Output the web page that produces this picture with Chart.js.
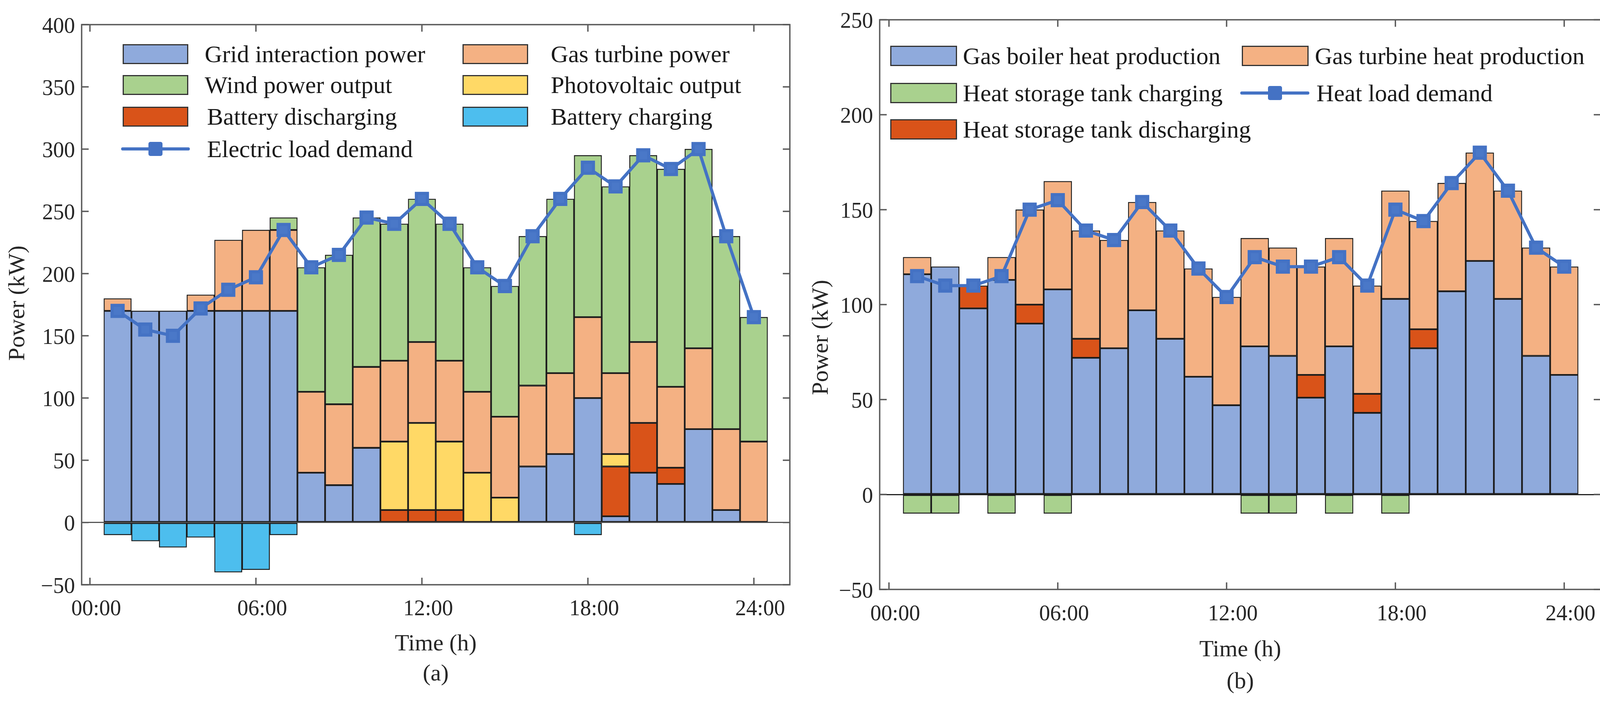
<!DOCTYPE html>
<html>
<head>
<meta charset="utf-8">
<script src="https://cdn.jsdelivr.net/npm/chart.js@4.4.1/dist/chart.umd.min.js"></script>
<style>
  body { margin: 0; background: #fff; }
  #wrap { position: relative; width: 4126px; height: 1796px; font-family: "Liberation Serif", serif; }
  canvas { position: absolute; top: 0; }
  .swatch { position: absolute; box-sizing: border-box; border: 3px solid #333; }
  .legtext { position: absolute; font-size: 62px; color: #1a1a1a; white-space: nowrap; height: 80px; line-height: 80px; }
  .legline { position: absolute; height: 8px; border-radius: 4px; background: #4472C4; }
  .legmark { position: absolute; width: 36px; height: 36px; border-radius: 5px; background: #4472C4; }
</style>
</head>
<body>
<div id="wrap">
  <canvas id="elecChart" width="2063" height="1796" style="left:0px"></canvas>
  <canvas id="heatChart" width="2063" height="1796" style="left:2063px"></canvas>
</div>
<script>
// hours of the day, one bar per hour
const hours = [1,2,3,4,5,6,7,8,9,10,11,12,13,14,15,16,17,18,19,20,21,22,23,24];
const xTickValues = [0, 6, 12, 18, 24];
const xTickLabels = ['00:00', '06:00', '12:00', '18:00', '24:00'];

// (a) electric balance, kW
const gridPower        = [170,170,170,170,170,170,170,40,30,60,0,0,0,0,0,45,55,100,5,40,31,75,10,0];
const batteryDischarge = [0,0,0,0,0,0,0,0,0,0,10,10,10,0,0,0,0,0,40,40,13,0,0,0];
const pvOutput         = [0,0,0,0,0,0,0,0,0,0,55,70,55,40,20,0,0,0,10,0,0,0,0,0];
const gasTurbinePower  = [10,0,0,13,57,65,65,65,65,65,65,65,65,65,65,65,65,65,65,65,65,65,65,65];
const windOutput       = [0,0,0,0,0,0,10,100,120,120,110,115,110,100,105,120,140,130,150,150,175,160,155,100];
const batteryCharge    = [-10,-15,-20,-12,-40,-38,-10,0,0,0,0,0,0,0,0,0,0,-10,0,0,0,0,0,0];
const electricLoad     = [170,155,150,172,187,197,235,205,215,245,240,260,240,205,190,230,260,285,270,295,284,300,230,165];

// (b) heat balance, kW
const gasBoilerHeat    = [116,120,98,113,90,108,72,77,97,82,62,47,78,73,51,78,43,103,77,107,123,103,73,63];
const tankDischarge    = [0,0,12,0,10,0,10,0,0,0,0,0,0,0,12,0,10,0,10,0,0,0,0,0];
const gasTurbineHeat   = [9,0,0,12,50,57,57,57,57,57,57,57,57,57,57,57,57,57,57,57,57,57,57,57];
const tankCharge       = [-10,-10,0,-10,0,-10,0,0,0,0,0,0,-10,-10,0,-10,0,-10,0,0,0,0,0,0];
const heatLoad         = [115,110,110,115,150,155,139,134,154,139,119,104,125,120,120,125,110,150,144,164,180,160,130,120];

const FONT = '"Liberation Serif"';
const TEXT = '#262626';
const AXIS = '#5a5a5a';
const LINE_BLUE = '#4472C4';

const colors = {
  blue: '#8FAADC',
  orange: '#F4B183',
  green: '#A9D18E',
  yellow: '#FFD966',
  red: '#D95319',
  cyan: '#4DBEEE'
};

//turn a value array into {x,y} points, empty bars become null
function toPoints(values) {
  return hours.map((h, i) => ({ x: h, y: values[i] === 0 ? null : values[i] }));
}

function barSet(label, values, color) {
  return {
    type: 'bar',
    label: label,
    data: toPoints(values),
    backgroundColor: color,
    borderColor: 'rgba(0,0,0,0.88)',
    borderWidth: 2.5,
    borderSkipped: false,
    barPercentage: 1,
    categoryPercentage: 1,
    order: 1
  };
}

function lineSet(label, values) {
  return {
    type: 'line',
    label: label,
    data: hours.map((h, i) => ({ x: h, y: values[i] })),
    stack: 'load',
    borderColor: LINE_BLUE,
    borderWidth: 8,
    borderJoinStyle: 'round',
    borderCapStyle: 'round',
    pointStyle: 'rect',
    pointRadius: 20,
    pointBorderWidth: 8,
    pointBorderColor: LINE_BLUE,
    pointBackgroundColor: '#4A78C8',
    tension: 0,
    order: 0
  };
}

//box around the plot plus inward ticks on all four sides (MATLAB style)
const framePlugin = {
  id: 'frame',
  afterDatasetsDraw(chart) {
    const { ctx, chartArea: a, scales } = chart;
    const x = scales.x, y = scales.y;
    const len = 18;
    ctx.save();
    ctx.strokeStyle = AXIS;
    ctx.lineWidth = 3.5;
    ctx.strokeRect(a.left, a.top, a.right - a.left, a.bottom - a.top);
    ctx.beginPath();
    x.ticks.forEach(t => {
      const px = x.getPixelForValue(t.value);
      ctx.moveTo(px, a.bottom); ctx.lineTo(px, a.bottom - len);
      ctx.moveTo(px, a.top); ctx.lineTo(px, a.top + len);
    });
    y.ticks.forEach(t => {
      const py = y.getPixelForValue(t.value);
      ctx.moveTo(a.left, py); ctx.lineTo(a.left + len, py);
      ctx.moveTo(a.right, py); ctx.lineTo(a.right - len, py);
    });
    ctx.stroke();
    ctx.restore();
  }
};

//rotated y title, can sit off-centre like the original
const yTitlePlugin = {
  id: 'yTitle',
  afterDraw(chart, args, opts) {
    const { ctx, chartArea: a } = chart;
    ctx.save();
    ctx.translate(opts.x, (a.top + a.bottom) / 2 + opts.dy);
    ctx.rotate(-Math.PI / 2);
    ctx.font = '60px ' + FONT;
    ctx.fillStyle = TEXT;
    ctx.textAlign = 'center';
    ctx.textBaseline = 'middle';
    ctx.fillText(opts.text, 0, 0);
    ctx.restore();
  }
};

function makeChart(id, datasets, cfg) {
  const ctx = document.getElementById(id).getContext('2d');
  return new Chart(ctx, {
    data: { datasets: datasets },
    plugins: [framePlugin, yTitlePlugin],
    options: {
      responsive: false,
      devicePixelRatio: 1,
      animation: false,
      events: [],
      layout: { padding: cfg.padding },
      plugins: {
        legend: { display: false },
        tooltip: { enabled: false },
        yTitle: { text: 'Power (kW)', x: cfg.yTitleX, dy: cfg.yTitleDy }
      },
      scales: {
        x: {
          type: 'linear',
          stacked: true,
          offset: false,
          min: cfg.xMin,
          max: 25.3,
          afterBuildTicks: s => { s.ticks = xTickValues.map(v => ({ value: v })); },
          afterFit: s => { s.height = cfg.xHeight; },
          grid: { display: false, drawTicks: false, offset: false },
          border: { display: false },
          ticks: {
            padding: cfg.xTickPad,
            labelOffset: 16,
            maxRotation: 0,
            color: TEXT,
            font: { family: FONT, size: 56 },
            callback: (v, i) => xTickLabels[i]
          },
          title: {
            display: true,
            text: ['Time (h)', cfg.panel],
            color: TEXT,
            font: { family: FONT, size: 60, lineHeight: cfg.titleLine },
            padding: { top: 0, bottom: cfg.titlePad }
          }
        },
        y: {
          stacked: true,
          min: cfg.yMin,
          max: cfg.yMax,
          afterFit: s => { s.width = cfg.yWidth; },
          border: { display: false },
          grid: {
            drawTicks: false,
            lineWidth: 3,
            color: c => (c.tick && c.tick.value === 0) ? cfg.zeroColor : 'rgba(0,0,0,0)'
          },
          ticks: {
            stepSize: 50,
            padding: 17,
            labelOffset: 6,
            color: TEXT,
            font: { family: FONT, size: 56 },
            callback: v => String(v).replace('-', '\u2212')
          }
        }
      }
    }
  });
}

const elecSets = [
  barSet('Grid interaction power', gridPower, colors.blue),
  barSet('Battery discharging', batteryDischarge, colors.red),
  barSet('Photovoltaic output', pvOutput, colors.yellow),
  barSet('Gas turbine power', gasTurbinePower, colors.orange),
  barSet('Wind power output', windOutput, colors.green),
  barSet('Battery charging', batteryCharge, colors.cyan),
  lineSet('Electric load demand', electricLoad)
];

const heatSets = [
  barSet('Gas boiler heat production', gasBoilerHeat, colors.blue),
  barSet('Heat storage tank discharging', tankDischarge, colors.red),
  barSet('Gas turbine heat production', gasTurbineHeat, colors.orange),
  barSet('Heat storage tank charging', tankCharge, colors.green),
  lineSet('Heat load demand', heatLoad)
];

//legends are placed inside the plots like the original figure
const legendItems = [
  { label: 'Grid interaction power', color: colors.blue, box: [314, 168, 51], textX: 524, y: 138 },
  { label: 'Wind power output', color: colors.green, box: [314, 168, 51], textX: 524, y: 217 },
  { label: 'Battery discharging', color: colors.red, box: [314, 168, 51], textX: 530, y: 298 },
  { label: 'Electric load demand', line: [310, 176], textX: 530, y: 381 },
  { label: 'Gas turbine power', color: colors.orange, box: [1184, 168, 51], textX: 1410, y: 138 },
  { label: 'Photovoltaic output', color: colors.yellow, box: [1184, 168, 51], textX: 1410, y: 217 },
  { label: 'Battery charging', color: colors.cyan, box: [1184, 168, 51], textX: 1410, y: 298 },
  { label: 'Gas boiler heat production', color: colors.blue, box: [2279, 171, 52], textX: 2465, y: 143 },
  { label: 'Heat storage tank charging', color: colors.green, box: [2279, 171, 52], textX: 2465, y: 238 },
  { label: 'Heat storage tank discharging', color: colors.red, box: [2279, 171, 52], textX: 2465, y: 331 },
  { label: 'Gas turbine heat production', color: colors.orange, box: [3179, 171, 52], textX: 3366, y: 143 },
  { label: 'Heat load demand', line: [3175, 177], textX: 3370, y: 238 }
];

function buildLegend() {
  const wrap = document.getElementById('wrap');
  legendItems.forEach(item => {
    if (item.box) {
      const sw = document.createElement('div');
      sw.className = 'swatch';
      sw.style.left = item.box[0] + 'px';
      sw.style.width = item.box[1] + 'px';
      sw.style.height = item.box[2] + 'px';
      sw.style.top = (item.y - item.box[2] / 2) + 'px';
      sw.style.background = item.color;
      wrap.appendChild(sw);
    } else {
      const ln = document.createElement('div');
      ln.className = 'legline';
      ln.style.left = item.line[0] + 'px';
      ln.style.width = item.line[1] + 'px';
      ln.style.top = (item.y - 4) + 'px';
      wrap.appendChild(ln);
      const mk = document.createElement('div');
      mk.className = 'legmark';
      mk.style.left = (item.line[0] + item.line[1] / 2 - 18) + 'px';
      mk.style.top = (item.y - 18) + 'px';
      wrap.appendChild(mk);
    }
    const tx = document.createElement('div');
    tx.className = 'legtext';
    tx.textContent = item.label;
    tx.style.left = item.textX + 'px';
    tx.style.top = (item.y - 40) + 'px';
    wrap.appendChild(tx);
  });
}

function drawAll() {
  makeChart('elecChart', elecSets, {
    panel: '(a)', padding: { left: 0, top: 63, right: 41, bottom: 0 },
    xMin: -0.3, yMin: -50, yMax: 400, yWidth: 209, xHeight: 300,
    xTickPad: 30, titleLine: 77 / 60, titlePad: 32,
    yTitleX: 46, yTitleDy: -4, zeroColor: '#555'
  });

  makeChart('heatChart', heatSets, {
    panel: '(b)', padding: { left: 0, top: 43, right: 22, bottom: 0 },
    xMin: -0.33, yMin: -50, yMax: 250, yWidth: 189, xHeight: 288,
    xTickPad: 31, titleLine: 82 / 60, titlePad: 10,
    yTitleX: 40, yTitleDy: 84, zeroColor: '#222'
  });
}

buildLegend();

//make sure the serif face is ready before the canvases paint
if (document.fonts && document.fonts.load) {
  document.fonts.load('56px "Liberation Serif"').then(drawAll, drawAll);
} else {
  drawAll();
}
</script>
</body>
</html>
